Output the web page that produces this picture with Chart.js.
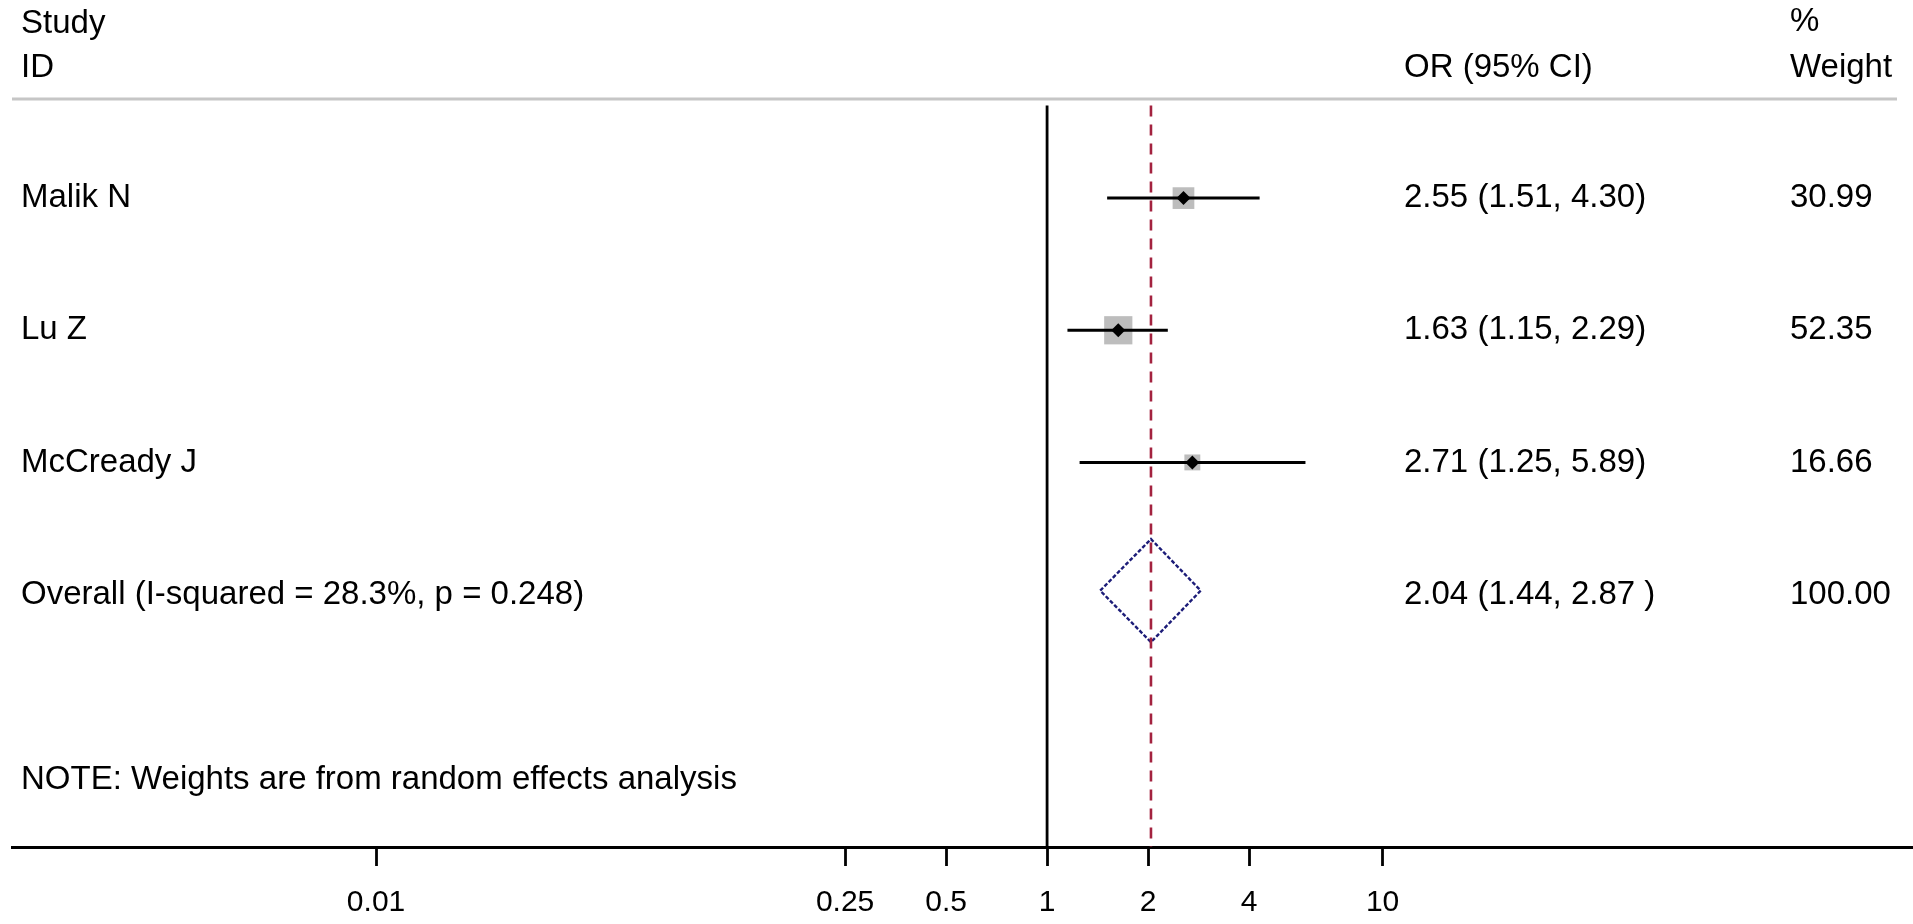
<!DOCTYPE html>
<html>
<head>
<meta charset="utf-8">
<script src="https://cdn.jsdelivr.net/npm/chart.js@4/dist/chart.umd.min.js"></script>
<style>
  html, body { margin: 0; padding: 0; background: #fff; }
  #wrap { width: 1913px; height: 924px; position: relative; }
</style>
</head>
<body>
<div id="wrap"><canvas id="forest"></canvas></div>
<script>
const studies = ["Malik N", "Lu Z", "McCready J"];
const orValues = [2.55, 1.63, 2.71];
const ciLower = [1.51, 1.15, 1.25];
const ciUpper = [4.30, 2.29, 5.89];
const weights = [30.99, 52.35, 16.66];
const ciLabels = ["2.55 (1.51, 4.30)", "1.63 (1.15, 2.29)", "2.71 (1.25, 5.89)"];
const weightLabels = ["30.99", "52.35", "16.66"];

const overallLabel = "Overall (I-squared = 28.3%, p = 0.248)";
const overallOr = 2.04;
const overallLower = 1.44;
const overallUpper = 2.87;
const overallCiLabel = "2.04 (1.44, 2.87 )";
const overallWeightLabel = "100.00";

const noteText = "NOTE: Weights are from random effects analysis";
const tickValues = [0.01, 0.25, 0.5, 1, 2, 4, 10];

const rows = studies.map((s, i) => i + 1);
const overallRow = 4;
const noteRow = 5.4;
const yMin = 0.25, yMax = 5.91;
const lineTop = 0.3;
const FONT = '"Liberation Sans", Arial, Helvetica, sans-serif';

// CI whiskers, one small dataset per study
const ciSets = studies.map((s, i) => ({
  type: "line",
  data: [{ x: ciLower[i], y: rows[i] }, { x: ciUpper[i], y: rows[i] }],
  borderColor: "#000",
  borderWidth: 3,
  pointRadius: 0,
  order: 5,
}));

const textPlugin = {
  id: "forestText",
  afterDraw(chart) {
    const ctx = chart.ctx;
    const y = chart.scales.y;
    const area = chart.chartArea;
    ctx.save();
    // header rule
    ctx.strokeStyle = "#c6c6c6";
    ctx.lineWidth = 3;
    ctx.beginPath();
    ctx.moveTo(12, area.top);
    ctx.lineTo(1897, area.top);
    ctx.stroke();

    ctx.fillStyle = "#000";
    ctx.font = "33px " + FONT;
    ctx.textBaseline = "middle";
    ctx.textAlign = "left";
    ctx.fillText("Study", 21, 24);
    ctx.fillText("ID", 21, 68);
    ctx.fillText("OR (95% CI)", 1404, 68);
    ctx.fillText("%", 1790, 22);
    ctx.fillText("Weight", 1790, 68);

    studies.forEach((s, i) => {
      const py = y.getPixelForValue(rows[i]);
      ctx.fillText(s, 21, py);
      ctx.fillText(ciLabels[i], 1404, py);
      ctx.fillText(weightLabels[i], 1790, py);
    });
    const oy = y.getPixelForValue(overallRow);
    ctx.fillText(overallLabel, 21, oy);
    ctx.fillText(overallCiLabel, 1404, oy);
    ctx.fillText(overallWeightLabel, 1790, oy);
    ctx.fillText(noteText, 21, y.getPixelForValue(noteRow));
    ctx.restore();
  },
};

new Chart(document.getElementById("forest"), {
  type: "scatter",
  data: {
    datasets: [
      {
        // red dashed overall effect line
        type: "line",
        data: [{ x: overallOr, y: lineTop }, { x: overallOr, y: yMax }],
        borderColor: "#a3223f",
        borderWidth: 2.6,
        borderDash: [11, 8],
        pointRadius: 0,
        order: 1,
      },
      {
        // line of no effect
        type: "line",
        data: [{ x: 1, y: lineTop }, { x: 1, y: yMax }],
        borderColor: "#000",
        borderWidth: 2.8,
        pointRadius: 0,
        order: 2,
      },
      {
        // pooled estimate diamond
        type: "line",
        data: [
          { x: overallLower, y: overallRow - 0.03 },
          { x: overallOr, y: overallRow - 0.42 },
          { x: overallUpper, y: overallRow - 0.03 },
          { x: overallOr, y: overallRow + 0.36 },
          { x: overallLower, y: overallRow - 0.03 },
        ],
        borderColor: "#1c1c78",
        borderWidth: 2.4,
        borderDash: [4, 2],
        pointRadius: 0,
        tension: 0,
        order: 3,
      },
      {
        // point estimates
        data: orValues.map((v, i) => ({ x: v, y: rows[i] })),
        pointStyle: "rectRot",
        pointRadius: 7,
        backgroundColor: "#000",
        borderWidth: 0,
        order: 4,
      },
      ...ciSets,
      {
        // weight boxes
        data: orValues.map((v, i) => ({ x: v, y: rows[i] })),
        pointStyle: "rect",
        pointRadius: weights.map(w => (3.9 * Math.sqrt(w)) / Math.SQRT2),
        backgroundColor: "#bdbdbd",
        borderWidth: 0,
        order: 6,
      },
    ],
  },
  options: {
    responsive: true,
    maintainAspectRatio: false,
    animation: false,
    layout: { autoPadding: false, padding: { top: 99, left: 12, right: 0, bottom: 0 } },
    plugins: {
      legend: { display: false },
      tooltip: { enabled: false },
    },
    scales: {
      x: {
        type: "logarithmic",
        min: 0.000822,
        max: 381,
        afterBuildTicks: scale => {
          scale.ticks = tickValues.map(v => ({ value: v }));
        },
        afterFit: scale => {
          scale.height = 924 - 847;
          scale.paddingLeft = 0;
          scale.paddingRight = 0;
        },
        ticks: {
          color: "#000",
          font: { family: FONT, size: 30 },
          padding: 19,
          autoSkip: false,
          maxRotation: 0,
          callback: v => String(v),
        },
        grid: {
          drawOnChartArea: false,
          drawTicks: true,
          tickLength: 19,
          tickWidth: 2.8,
          tickColor: "#000",
        },
        border: { display: true, color: "#000", width: 3 },
      },
      y: {
        type: "linear",
        reverse: true,
        min: yMin,
        max: yMax,
        display: false,
      },
    },
  },
  plugins: [textPlugin],
});
</script>
</body>
</html>
